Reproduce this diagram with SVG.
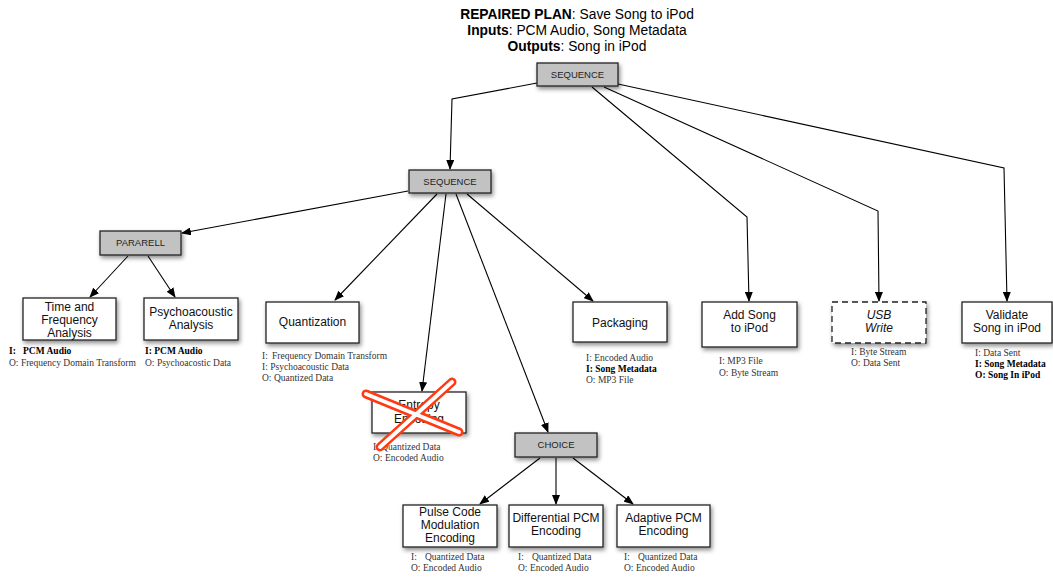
<svg xmlns="http://www.w3.org/2000/svg" width="1053" height="577" viewBox="0 0 1053 577">
<defs>
<filter id="sh" x="-20%" y="-20%" width="150%" height="160%"><feDropShadow dx="1.5" dy="2.5" stdDeviation="2" flood-color="#000" flood-opacity="0.45"/></filter>
<marker id="ah" markerWidth="10" markerHeight="8" refX="9" refY="4" orient="auto" markerUnits="userSpaceOnUse"><path d="M0,0 L10,4 L0,8 z" fill="#000"/></marker>
<style>
.box{fill:#fff;stroke:#222;stroke-width:1.3;filter:url(#sh)}
.gbox{fill:#c2c2c2;stroke:#222;stroke-width:1.3;filter:url(#sh)}
.dbox{fill:#fff;stroke:#222;stroke-width:1.3;stroke-dasharray:6,4;filter:url(#sh)}
.t{font-family:"Liberation Sans",Arial,sans-serif;font-size:12px;fill:#111;text-anchor:middle}
.g{font-family:"Liberation Sans",Arial,sans-serif;font-size:9.5px;fill:#222;text-anchor:middle}
.l{font-family:"Liberation Serif","Times New Roman",serif;font-size:9.5px;fill:#333}
.b{font-weight:bold;fill:#000}
.title{font-family:"Liberation Sans",Arial,sans-serif;font-size:13.8px;fill:#000;text-anchor:middle}
.c{fill:none;stroke:#000;stroke-width:1.1;marker-end:url(#ah)}
</style>
</defs>
<rect width="1053" height="577" fill="#fff"/>
<g id="title">
<text class="title" x="577" y="19"><tspan font-weight="bold">REPAIRED PLAN</tspan>: Save Song to iPod</text>
<text class="title" x="577" y="35"><tspan font-weight="bold">Inputs</tspan>: PCM Audio, Song Metadata</text>
<text class="title" x="577" y="51"><tspan font-weight="bold">Outputs</tspan>: Song in iPod</text>
</g>
<g id="connectors">
<polyline class="c" points="537,83 452,99 450,169"/>
<polyline class="c" points="592,87 747,217 749,301"/>
<polyline class="c" points="604,87 878,211 879,301"/>
<polyline class="c" points="618,84 1004,168 1007,301"/>
<line class="c" x1="408" y1="191" x2="182" y2="233"/>
<line class="c" x1="128" y1="256" x2="90" y2="297"/>
<line class="c" x1="148" y1="256" x2="175" y2="297"/>
<line class="c" x1="437" y1="194" x2="335" y2="300"/>
<line class="c" x1="446" y1="194" x2="422" y2="391"/>
<line class="c" x1="456" y1="194" x2="548" y2="432"/>
<line class="c" x1="467" y1="194" x2="593" y2="301"/>
<line class="c" x1="540" y1="458" x2="480" y2="504"/>
<line class="c" x1="556" y1="458" x2="556" y2="504"/>
<line class="c" x1="573" y1="458" x2="633" y2="504"/>
</g>
<g id="seq-top"><rect class="gbox" x="537" y="63" width="81" height="23"/><text class="g" x="577.5" y="78">SEQUENCE</text></g>
<g id="seq-2"><rect class="gbox" x="409" y="170" width="82" height="23"/><text class="g" x="450" y="185">SEQUENCE</text></g>
<g id="pararell"><rect class="gbox" x="100" y="231" width="81" height="24"/><text class="g" x="140.5" y="246">PARARELL</text></g>
<g id="choice"><rect class="gbox" x="515" y="433" width="82" height="24"/><text class="g" x="556" y="448">CHOICE</text></g>
<g id="time-freq">
<rect class="box" x="23" y="298" width="93" height="42"/>
<text class="t" x="69.5" y="311">Time and</text><text class="t" x="69.5" y="324">Frequency</text><text class="t" x="69.5" y="337">Analysis</text>
<text class="l" x="9" y="354"><tspan class="b">I:</tspan><tspan class="b" x="23">PCM Audio</tspan></text>
<text class="l" x="9" y="366">O: Frequency Domain Transform</text>
</g>
<g id="psycho">
<rect class="box" x="144" y="298" width="94" height="42"/>
<text class="t" x="191" y="316">Psychoacoustic</text><text class="t" x="191" y="329">Analysis</text>
<text class="l b" x="145" y="354">I: PCM Audio</text>
<text class="l" x="145" y="366">O: Psychoacostic Data</text>
</g>
<g id="quantization">
<rect class="box" x="266" y="302" width="93" height="41"/>
<text class="t" x="312.5" y="326">Quantization</text>
<text class="l" x="262" y="359">I:<tspan x="272">Frequency Domain Transform</tspan></text>
<text class="l" x="262" y="370">I: Psychoacoustic Data</text>
<text class="l" x="262" y="381">O: Quantized Data</text>
</g>
<g id="entropy">
<rect class="box" x="372" y="392" width="94" height="41"/>
<text class="t" x="419" y="409">Entropy</text><text class="t" x="419" y="423">Encoding</text>
<text class="l" x="373" y="450">I: Quantized Data</text>
<text class="l" x="373" y="461">O: Encoded Audio</text>
<g id="cross" stroke-linecap="round">
<line x1="366" y1="394" x2="459" y2="432" stroke="#ff3a12" stroke-width="9"/>
<line x1="452" y1="382" x2="380" y2="447" stroke="#ff3a12" stroke-width="9"/>
<line x1="366" y1="394" x2="459" y2="432" stroke="#fff" stroke-width="4"/>
<line x1="452" y1="382" x2="380" y2="447" stroke="#fff" stroke-width="4"/>
</g>
</g>
<g id="packaging">
<rect class="box" x="573" y="302" width="94" height="40"/>
<text class="t" x="620" y="327">Packaging</text>
<text class="l" x="586" y="361">I: Encoded Audio</text>
<text class="l b" x="586" y="372">I: Song Metadata</text>
<text class="l" x="586" y="383">O: MP3 File</text>
</g>
<g id="add-song">
<rect class="box" x="702" y="302" width="95" height="45"/>
<text class="t" x="749.5" y="319">Add Song</text><text class="t" x="749.5" y="332">to iPod</text>
<text class="l" x="719" y="364">I: MP3 File</text>
<text class="l" x="719" y="376">O: Byte Stream</text>
</g>
<g id="usb-write">
<rect class="dbox" x="832" y="302" width="94" height="41"/>
<text class="t" x="879" y="319" font-style="italic">USB</text><text class="t" x="879" y="332" font-style="italic">Write</text>
<text class="l" x="851" y="355">I: Byte Stream</text>
<text class="l" x="851" y="366">O: Data Sent</text>
</g>
<g id="validate">
<rect class="box" x="962" y="302" width="90" height="41"/>
<text class="t" x="1007" y="319">Validate</text><text class="t" x="1007" y="332">Song in iPod</text>
<text class="l" x="975" y="356">I: Data Sent</text>
<text class="l b" x="975" y="367">I: Song Metadata</text>
<text class="l b" x="975" y="378">O: Song In iPod</text>
</g>
<g id="pcm">
<rect class="box" x="403" y="505" width="94" height="42"/>
<text class="t" x="450" y="516">Pulse Code</text><text class="t" x="450" y="529">Modulation</text><text class="t" x="450" y="542">Encoding</text>
<text class="l" x="411" y="560">I:<tspan x="425">Quantized Data</tspan></text>
<text class="l" x="411" y="571">O: Encoded Audio</text>
</g>
<g id="dpcm">
<rect class="box" x="509" y="505" width="94" height="42"/>
<text class="t" x="556" y="522">Differential PCM</text><text class="t" x="556" y="535">Encoding</text>
<text class="l" x="518" y="560">I:<tspan x="532">Quantized Data</tspan></text>
<text class="l" x="518" y="571">O: Encoded Audio</text>
</g>
<g id="adpcm">
<rect class="box" x="617" y="505" width="93" height="42"/>
<text class="t" x="663.5" y="522">Adaptive PCM</text><text class="t" x="663.5" y="535">Encoding</text>
<text class="l" x="624" y="560">I:<tspan x="638">Quantized Data</tspan></text>
<text class="l" x="624" y="571">O: Encoded Audio</text>
</g>
</svg>
